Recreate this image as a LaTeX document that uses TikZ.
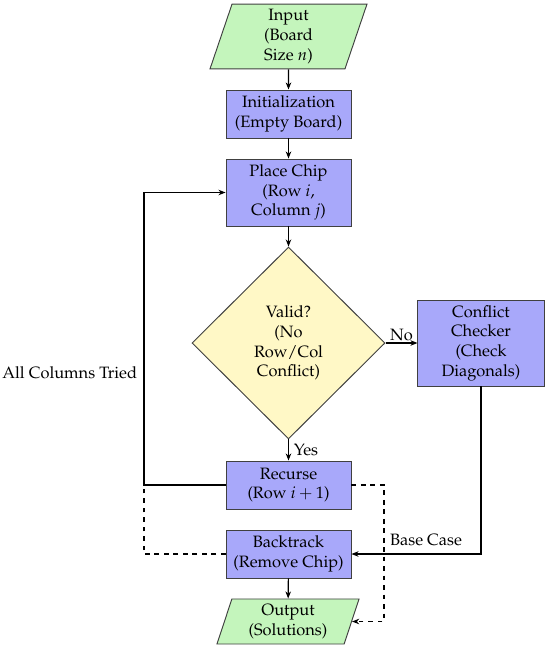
\documentclass[tikz,border=0pt]{standalone}
\usepackage[T1]{fontenc}
\usepackage{mathpazo}
\usetikzlibrary{shapes.geometric,arrows.meta}
\definecolor{iogreen}{RGB}{196,245,188}
\definecolor{procblue}{RGB}{168,168,250}
\definecolor{decyellow}{RGB}{255,248,198}
\begin{document}
\begin{tikzpicture}[x=0.633pt,y=-0.633pt,
  every node/.style={font=\fontsize{10.4pt}{12.5pt}\selectfont},
  box/.style={draw=black!75, line width=0.6pt, fill=procblue, align=center, minimum width=79.1pt, inner sep=2pt},
  iobox/.style={draw=black!75, line width=0.6pt, fill=iogreen, align=center, trapezium, trapezium left angle=70, trapezium right angle=110, trapezium stretches body, inner sep=2pt},
  decbox/.style={draw=black!75, line width=0.6pt, fill=decyellow, align=center, diamond, minimum width=122.2pt, minimum height=121.5pt, inner sep=0pt},
  conn/.style={line width=0.7pt, -{Stealth[length=4.5pt,width=3.5pt]}},
  plain/.style={line width=0.7pt},
  lbl/.style={inner sep=1pt}]
\useasboundingbox (0,0) rectangle (550,650);

\node[iobox, minimum width=99.4pt, minimum height=41.1pt] (in) at (288.5,36.5) {Input\\(Board\\Size $n$)};
\node[box, minimum height=30.4pt] (init) at (288.5,114) {Initialization\\(Empty Board)};
\node[box, minimum height=42.4pt] (place) at (288.5,192.5) {Place Chip\\(Row $i$,\\Column $j$)};
\node[decbox] (valid) at (288.5,343) {Valid?\\(No\\Row/Col\\Conflict)};
\node[box, minimum width=79.8pt, minimum height=54.4pt] (conf) at (481,343) {Conflict\\Checker\\(Check\\Diagonals)};
\node[box, minimum height=30.4pt] (rec) at (288.5,485) {Recurse\\(Row $i+1$)};
\node[box, minimum height=30.4pt] (back) at (288.5,554) {Backtrack\\(Remove Chip)};
\node[iobox, minimum width=89.9pt, minimum height=28.5pt] (out) at (288,621.5) {Output\\(Solutions)};

\coordinate (lx) at (144,0);
\coordinate (rx) at (384,0);

\draw[conn] (in) -- (init);
\draw[conn] (init) -- (place);
\draw[conn] (place) -- (valid);
\draw[conn] (valid) -- node[lbl, right, xshift=2pt] (yes) {Yes} (rec);
\draw[conn] (valid) -- node[lbl, above, pos=0.5] (no) {No} (conf);
\draw[conn] (back) -- (out);

\draw[conn] (rec.west) -- (rec.west -| lx) |- (place.west);
\node[lbl, anchor=east] (tried) at (139,373) {All Columns Tried};
\draw[plain, dashed] (back.west) -- (back.west -| lx) -- (rec.west -| lx);
\draw[conn, dashed] (rec.east) -- (rec.east -| rx) |- (out.east);
\draw[conn] (conf.south) |- (back.east);
\node[lbl] (base) at (426,540) {Base Case};
\end{tikzpicture}
\end{document}
